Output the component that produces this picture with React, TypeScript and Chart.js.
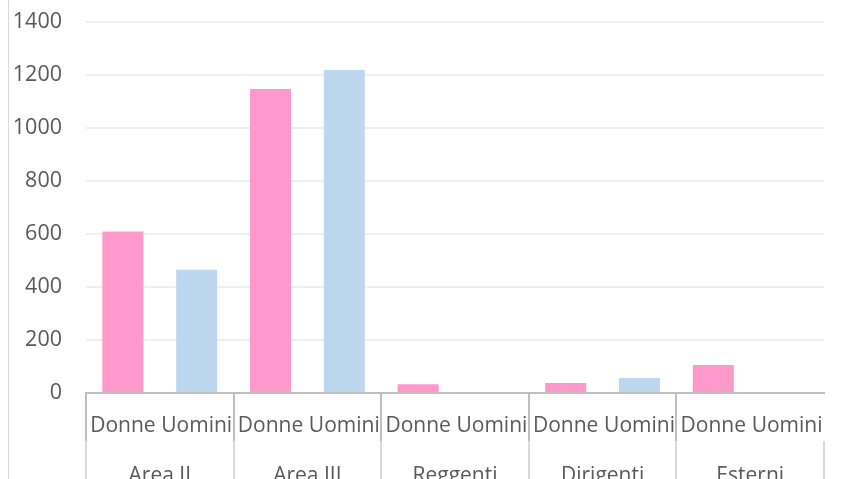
import React, { useEffect, useRef } from "react";
import { Chart, registerables } from "chart.js";

Chart.register(...registerables);

const groups = ["Area II", "Area III", "Reggenti", "Dirigenti", "Esterni"];
const genders = ["Donne", "Uomini"];
const donneValues = [609, 1147, 33, 38, 106];
const uominiValues = [465, 1219, 0, 57, 0];
const yTicks = [0, 200, 400, 600, 800, 1000, 1200, 1400];

const PINK = "#FF99CC";
const BLUE = "#BDD7EE";
const FONT = "'Open Sans', sans-serif";

export default function App() {
  const ref = useRef<HTMLCanvasElement | null>(null);

  useEffect(() => {
    if (!ref.current) return;
    const labels: string[] = [];
    const values: number[] = [];
    const colors: string[] = [];
    groups.forEach((g, i) => {
      labels.push(genders[0]);
      values.push(donneValues[i]);
      colors.push(PINK);
      labels.push(genders[1]);
      values.push(uominiValues[i]);
      colors.push(BLUE);
    });

    const chart = new Chart(ref.current, {
      type: "bar",
      data: {
        labels,
        datasets: [
          {
            data: values,
            backgroundColor: colors,
            borderWidth: 0,
            barPercentage: 0.556,
            categoryPercentage: 1,
          },
        ],
      },
      options: {
        animation: false,
        responsive: false,
        maintainAspectRatio: false,
        layout: { padding: { top: 22, right: 30, left: 0, bottom: 0 } },
        plugins: { legend: { display: false }, tooltip: { enabled: false } },
        scales: {
          y: {
            min: 0,
            max: 1400,
            afterBuildTicks: (scale: any) => {
              scale.ticks = yTicks.map((v) => ({ value: v }));
            },
            afterFit: (scale: any) => {
              scale.width = 86;
              scale.paddingTop = 0;
              scale.paddingBottom = 0;
            },
            border: { display: false },
            grid: { color: "#EFEFEF", lineWidth: 2, drawTicks: false },
            ticks: {
              padding: 24,
              color: "#595959",
              font: { family: FONT, size: 21.5 },
              callback: (v: any) => String(v),
            },
          },
          x: {
            type: "category",
            position: "bottom",
            weight: 0,
            offset: true,
            afterFit: (scale: any) => {
              scale.height = 48;
            },
            border: { display: true, color: "#BFBFBF", width: 2 },
            grid: {
              offset: true,
              drawOnChartArea: false,
              drawTicks: true,
              tickLength: 48,
              lineWidth: 2,
              color: (ctx: any) => (ctx.index % 2 === 0 ? "#BFBFBF" : "rgba(0,0,0,0)"),
            },
            ticks: {
              autoSkip: false,
              maxRotation: 0,
              minRotation: 0,
              padding: -27.6,
              color: "#595959",
              font: { family: FONT, size: 21 },
            },
          },
          x2: {
            type: "category",
            position: "bottom",
            weight: 1,
            labels: groups,
            offset: true,
            afterFit: (scale: any) => {
              scale.height = 60;
            },
            border: { display: false },
            grid: {
              offset: true,
              drawOnChartArea: false,
              drawTicks: true,
              tickLength: 60,
              lineWidth: 2,
              color: "#D9D9D9",
            },
            ticks: {
              autoSkip: false,
              maxRotation: 0,
              minRotation: 0,
              padding: -37.6,
              color: "#595959",
              font: { family: FONT, size: 21 },
            },
          },
        },
      },
    });
    return () => chart.destroy();
  }, []);

  return (
    <div
      style={{
        position: "fixed",
        left: 0,
        top: 0,
        width: 854,
        height: 479,
        overflow: "hidden",
        background: "#fff",
      }}
    >
      <div
        style={{
          position: "absolute",
          left: 8,
          top: 0,
          width: 0,
          height: 479,
          borderLeft: "1px solid #D9D9D9",
        }}
      />
      <canvas
        ref={ref}
        width={854}
        height={501}
        style={{ position: "absolute", left: 0, top: 0, width: 854, height: 501 }}
      />
    </div>
  );
}
